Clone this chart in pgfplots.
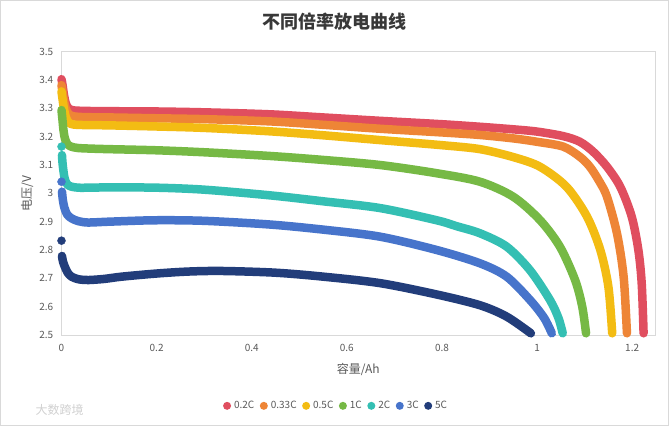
\documentclass[border=0pt]{standalone}
\usepackage{pgfplots}
\pgfplotsset{compat=1.18}
\usepackage{fontspec}
\setmainfont{Noto Sans CJK SC}
\definecolor{cRed}{HTML}{E04E5F}
\definecolor{cOra}{HTML}{EE8536}
\definecolor{cYel}{HTML}{F3BC13}
\definecolor{cGre}{HTML}{76B945}
\definecolor{cTea}{HTML}{34BFB3}
\definecolor{cBlu}{HTML}{4774CB}
\definecolor{cNav}{HTML}{223D7A}
\definecolor{axgray}{HTML}{D9D9D9}
\definecolor{txgray}{HTML}{595959}
\begin{document}
\begin{tikzpicture}[x=1pt,y=1pt]
\draw[axgray, line width=0.8pt, fill=white] (0.4,0.4) rectangle (668.6,425.6);
\node[font=\fontsize{18}{20}\selectfont\bfseries, text=black!78] at (334.5,404) {不同倍率放电曲线};
\node[font=\fontsize{12}{14}\selectfont, text=black!18, anchor=west] at (32,16) {大数跨境};
\begin{axis}[
  at={(61.5pt,91pt)}, anchor=origin,
  scale only axis, width=593.5pt, height=283.3pt,
  xmin=0, xmax=1.248, ymin=2.5, ymax=3.5,
  clip=false,
  axis line style={axgray, line width=0.8pt},
  major tick length=0pt,
  xtick={0,0.2,0.4,0.6,0.8,1,1.2},
  ytick={2.5,2.6,2.7,2.8,2.9,3,3.1,3.2,3.3,3.4,3.5},
  /pgf/number format/assume math mode=true,
  tick label style={font=\fontsize{10}{12}\selectfont, text=txgray},
  yticklabel style={anchor=east, inner sep=0pt, xshift=-8pt},
  xticklabel style={anchor=north, inner sep=0pt, yshift=-9pt},
  xlabel={容量/Ah}, ylabel={电压/V},
  label style={font=\fontsize{12}{14}\selectfont, text=txgray},
  xlabel style={at={(axis description cs:0.5,-0.1235)}, anchor=center},
  ylabel style={at={(axis description cs:-0.058,0.5)}, anchor=center},
  legend columns=7,
  legend style={at={(0.461,-0.25)}, anchor=center, draw=none, fill=none,
    font=\fontsize{10}{12}\selectfont, text=txgray,
    nodes={inner xsep=0pt, inner ysep=1pt},
    /tikz/every even column/.append style={column sep=5.5pt},
    /tikz/every odd column/.append style={column sep=3pt}},
  legend image code/.code={\path[#1, line width=0pt, draw=none, fill] (0pt,0pt) circle (4pt);},
  every axis plot/.append style={line width=8.5pt, line cap=round, line join=round},
]
\addplot[cRed, smooth, tension=0.5] coordinates {
(0,3.403) (0.002,3.385) (0.005,3.35) (0.009,3.318) (0.015,3.300) (0.025,3.293)
(0.05,3.291) (0.1,3.290) (0.2,3.289) (0.3,3.286) (0.438,3.279) (0.55,3.268)
(0.67,3.256) (0.8,3.244) (0.88,3.235) (0.95,3.226) (1.0,3.218) (1.055,3.202)
(1.09,3.182) (1.118,3.147) (1.147,3.094) (1.175,3.023) (1.199,2.918)
(1.213,2.80) (1.220,2.683) (1.224,2.506)};
\addlegendentry{0.2C}
\addplot[cOra, smooth, tension=0.5] coordinates {
(0,3.382) (0.002,3.36) (0.005,3.33) (0.009,3.300) (0.015,3.280) (0.025,3.272)
(0.05,3.269) (0.1,3.268) (0.2,3.265) (0.3,3.262) (0.438,3.254) (0.55,3.242)
(0.67,3.228) (0.8,3.215) (0.88,3.206) (0.95,3.194) (1.0,3.182) (1.055,3.165)
(1.09,3.129) (1.111,3.094) (1.13,3.045) (1.147,2.988) (1.168,2.859)
(1.182,2.706) (1.189,2.506)};
\addlegendentry{0.33C}
\addplot[cYel, smooth, tension=0.5] coordinates {
(0,3.36) (0.002,3.335) (0.005,3.30) (0.009,3.27) (0.015,3.25) (0.025,3.243)
(0.05,3.241) (0.1,3.240) (0.2,3.236) (0.3,3.231) (0.438,3.219) (0.55,3.205)
(0.67,3.188) (0.8,3.170) (0.88,3.156) (0.95,3.128) (1.006,3.094) (1.062,3.023)
(1.105,2.918) (1.133,2.80) (1.150,2.67) (1.158,2.506)};
\addlegendentry{0.5C}
\addplot[cGre, smooth, tension=0.5] coordinates {
(0,3.294) (0.002,3.26) (0.004,3.225) (0.007,3.195) (0.012,3.175) (0.02,3.165)
(0.035,3.160) (0.06,3.158) (0.1,3.156) (0.2,3.152) (0.3,3.145) (0.438,3.132)
(0.55,3.118) (0.67,3.100) (0.789,3.071) (0.88,3.041) (0.95,2.988) (1.006,2.906)
(1.048,2.812) (1.080,2.694) (1.095,2.60) (1.103,2.506)};
\addlegendentry{1C}
\addplot[cTea, smooth, tension=0.5] coordinates {
(0.001,3.135) (0.002,3.11) (0.004,3.08) (0.007,3.05) (0.012,3.032) (0.02,3.024)
(0.035,3.020) (0.06,3.020) (0.1,3.021) (0.2,3.020) (0.3,3.013) (0.438,2.993)
(0.55,2.972) (0.67,2.948) (0.789,2.905) (0.831,2.884) (0.88,2.859) (0.936,2.812)
(0.985,2.729) (1.027,2.624) (1.045,2.56) (1.054,2.506)};
\addlegendentry{2C}
\addplot[cBlu, smooth, tension=0.5] coordinates {
(0.001,3.006) (0.003,2.975) (0.006,2.95) (0.012,2.925) (0.021,2.912) (0.035,2.902)
(0.056,2.897) (0.1,2.900) (0.197,2.905) (0.3,2.903) (0.438,2.890) (0.55,2.872)
(0.670,2.847) (0.789,2.800) (0.880,2.753) (0.936,2.706) (0.985,2.624)
(1.015,2.56) (1.031,2.506)};
\addlegendentry{3C}
\addplot[cNav, smooth, tension=0.5] coordinates {
(0.001,2.779) (0.003,2.76) (0.007,2.741) (0.013,2.72) (0.021,2.706) (0.035,2.697)
(0.056,2.694) (0.09,2.698) (0.127,2.706) (0.2,2.717) (0.267,2.724) (0.337,2.726)
(0.449,2.720) (0.55,2.706) (0.670,2.683) (0.789,2.643) (0.88,2.605)
(0.936,2.565) (0.987,2.506)};
\addlegendentry{5C}
\addplot[cTea, only marks, mark=*, mark size=4pt, line width=0.4pt, forget plot] coordinates {(0,3.165)};
\addplot[cBlu, only marks, mark=*, mark size=4pt, line width=0.4pt, forget plot] coordinates {(0,3.041)};
\addplot[cNav, only marks, mark=*, mark size=4pt, line width=0.4pt, forget plot] coordinates {(0,2.833)};
\end{axis}
\end{tikzpicture}
\end{document}
